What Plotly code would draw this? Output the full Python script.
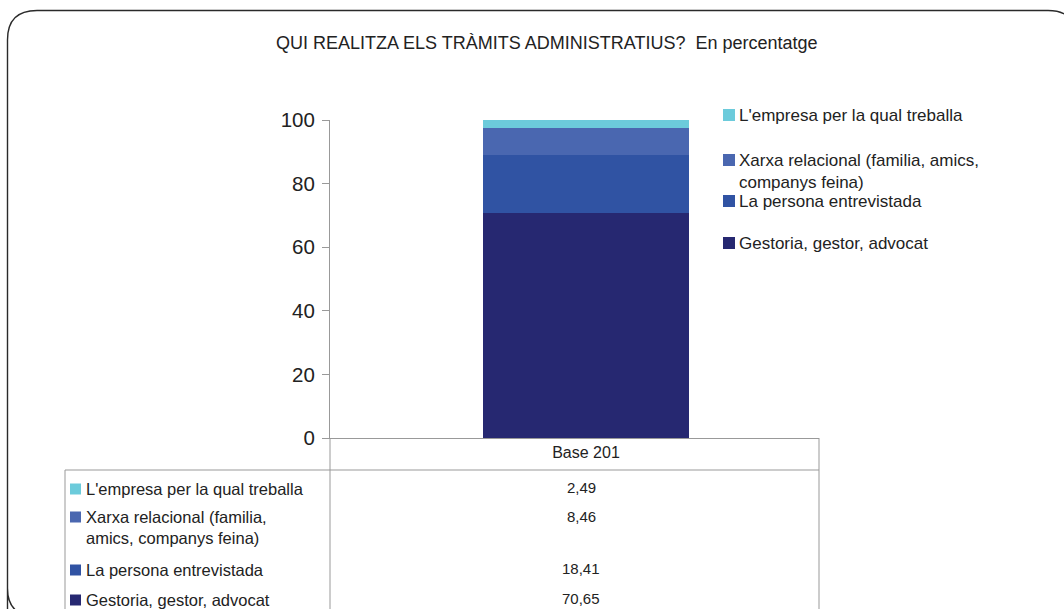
import plotly.graph_objects as go

# Survey answers, listed top of the stack first
categories = [
    "L'empresa per la qual treballa",
    "Xarxa relacional (familia, amics, companys feina)",
    "La persona entrevistada",
    "Gestoria, gestor, advocat",
]
values = [2.49, 8.46, 18.41, 70.65]
colors = ["#6ccbdb", "#4a67b0", "#3053a3", "#262871"]
group_label = "Base 201"
title_text = "QUI REALITZA ELS TRÀMITS ADMINISTRATIUS?  En percentatge"
y_ticks = [0, 20, 40, 60, 80, 100]

# Text as it is broken over lines in the side legend and in the data table
legend_lines = [
    "L'empresa per la qual treballa",
    "Xarxa relacional (familia, amics,<br>companys feina)",
    "La persona entrevistada",
    "Gestoria, gestor, advocat",
]
table_lines = [
    "L'empresa per la qual treballa",
    "Xarxa relacional (familia,<br>amics, companys feina)",
    "La persona entrevistada",
    "Gestoria, gestor, advocat",
]

W, H = 1064, 609
L, R, T, B = 330, 819, 120, 438   # plot area in pixels


def px(x):
    return (x - L) / (R - L)


def py(y):
    return (B - y) / (B - T)


FONT = "Liberation Sans, Arial, sans-serif"
TXT = "#222222"
LINE = "#999999"

fig = go.Figure()
# bottom segment first so the stack reads from the bottom up
for name, val, col in reversed(list(zip(categories, values, colors))):
    fig.add_trace(go.Bar(
        x=[group_label], y=[val], name=name, marker_color=col,
        marker_line_width=0, width=0.42, showlegend=False,
    ))

shapes = []
annotations = []

# outer rounded frame
shapes.append(dict(
    type="path", xref="paper", yref="paper",
    path=(f"M {px(7.5)},{py(640)} L {px(7.5)},{py(588)} Q {px(7.5)},{py(616)} {px(35)},{py(616)} "
          f"M {px(7.5)},{py(640)} L {px(7.5)},{py(40)} Q {px(7.5)},{py(10.5)} {px(37)},{py(10.5)} "
          f"L {px(1048)},{py(10.5)} Q {px(1076)},{py(10.5)} {px(1076)},{py(38)}"),
    line=dict(color="#2a2a2a", width=1.4),
))

# data table grid
for x0, y0, x1, y1 in [
    (330, 438, 330, 620),   # divider below the y axis
    (819, 438, 819, 620),   # right edge
    (65, 470, 819, 470),    # under the header row
    (65, 470, 65, 620),     # left edge
]:
    shapes.append(dict(type="line", xref="paper", yref="paper",
                       x0=px(x0), y0=py(y0), x1=px(x1), y1=py(y1),
                       line=dict(color=LINE, width=1)))

# side legend
legend_y = [115, 160, 201, 243]
for text, col, yc in zip(legend_lines, colors, legend_y):
    shapes.append(dict(type="rect", xref="paper", yref="paper",
                       x0=px(723), x1=px(735), y0=py(yc - 6), y1=py(yc + 6),
                       fillcolor=col, line_width=0))
    annotations.append(dict(
        xref="paper", yref="paper", x=px(737), y=py(yc - 11),
        xanchor="left", yanchor="top", text=text, showarrow=False, align="left",
        font=dict(family=FONT, size=17, color=TXT),
    ))

# data table rows
row_label_y = [489, 517, 570, 600]
row_value_y = [487, 516, 568, 598]
for text, col, val, yl, yv in zip(table_lines, colors, values, row_label_y, row_value_y):
    shapes.append(dict(type="rect", xref="paper", yref="paper",
                       x0=px(70), x1=px(81), y0=py(yl - 5.5), y1=py(yl + 5.5),
                       fillcolor=col, line_width=0))
    annotations.append(dict(
        xref="paper", yref="paper", x=px(84), y=py(yl - 11),
        xanchor="left", yanchor="top", text=text, showarrow=False, align="left",
        font=dict(family=FONT, size=16.5, color=TXT),
    ))
    annotations.append(dict(
        xref="paper", yref="paper", x=px(581), y=py(yv),
        xanchor="center", yanchor="middle",
        text=f"{val:.2f}".replace(".", ","), showarrow=False,
        font=dict(family=FONT, size=15, color=TXT),
    ))

# title
annotations.append(dict(
    xref="paper", yref="paper", x=px(547), y=py(43),
    xanchor="center", yanchor="middle", text=title_text, showarrow=False,
    font=dict(family="Liberation Sans Narrow, Arial Narrow, Liberation Sans, sans-serif",
              size=18, color=TXT),
))

fig.update_layout(
    width=W, height=H,
    margin=dict(l=L, r=W - R, t=T, b=H - B),
    paper_bgcolor="white", plot_bgcolor="white",
    barmode="stack", bargap=0,
    showlegend=False,
    shapes=shapes, annotations=annotations,
    font=dict(family=FONT, color=TXT),
)
fig.update_xaxes(
    type="category", range=[-0.5235, 0.4765],
    showline=True, linecolor=LINE, linewidth=1,
    ticks="", showgrid=False, zeroline=False,
    tickfont=dict(family=FONT, size=16, color=TXT),
)
fig.update_yaxes(
    range=[0, 100], tickvals=y_ticks,
    showline=True, linecolor=LINE, linewidth=1,
    ticks="outside", ticklen=7, tickcolor=LINE,
    ticklabelstandoff=3,
    showgrid=False, zeroline=False,
    tickfont=dict(family=FONT, size=20.5, color=TXT),
)

fig.write_html("out.html")
